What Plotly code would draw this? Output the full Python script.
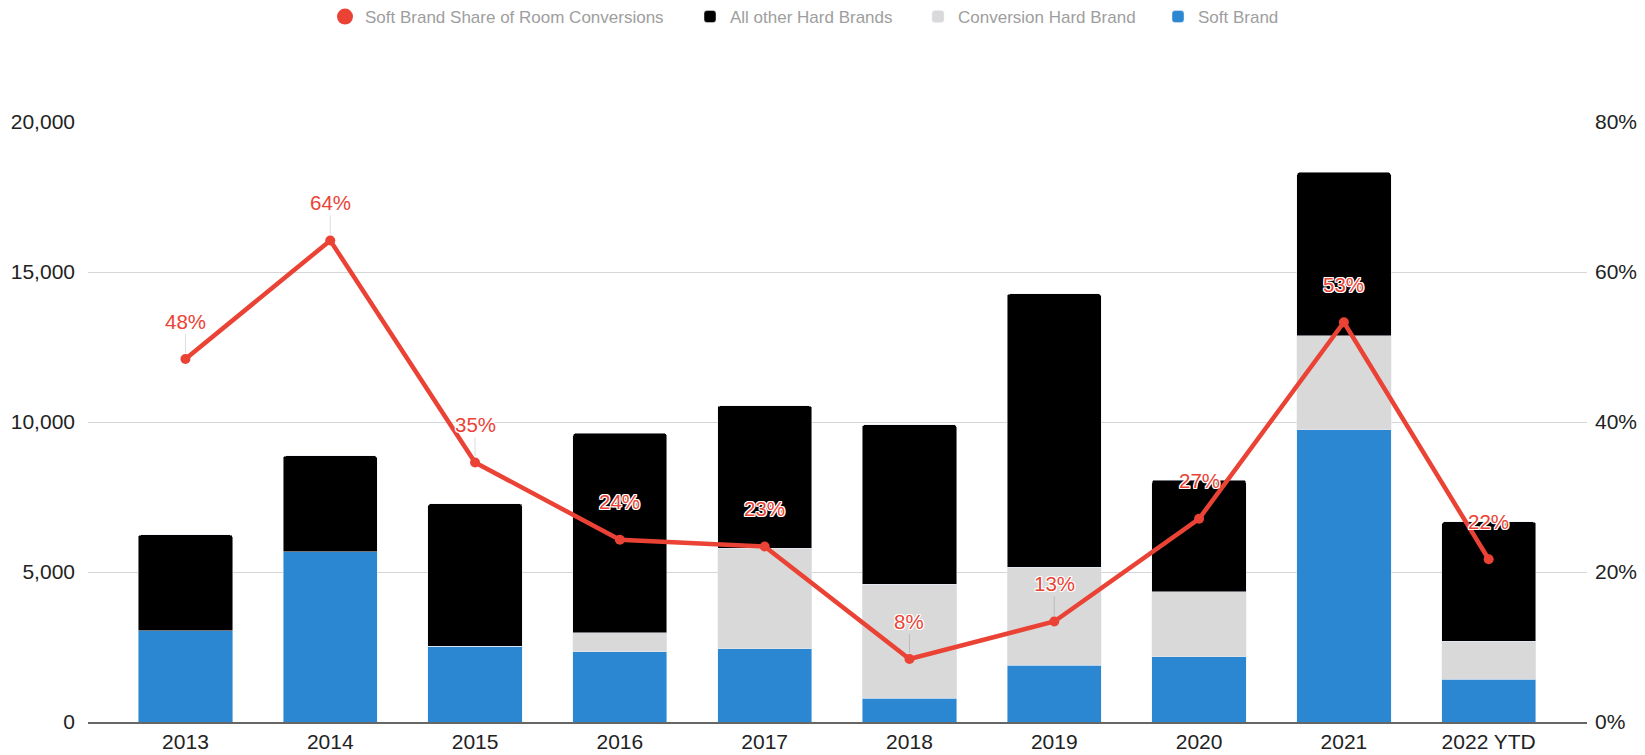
import plotly.graph_objects as go

years = ['2013', '2014', '2015', '2016', '2017', '2018', '2019', '2020', '2021', '2022 YTD']
soft_brand = [3040, 5680, 2530, 2350, 2450, 790, 1890, 2180, 9750, 1420]
conversion_hard = [0, 0, 0, 630, 3340, 3800, 3270, 2170, 3130, 1280]
other_hard = [3200, 3190, 4750, 6640, 4750, 5320, 9110, 3710, 5440, 3970]
soft_share = [0.484, 0.642, 0.346, 0.243, 0.234, 0.084, 0.134, 0.271, 0.533, 0.217]

RED = '#EA4335'
BLUE = '#2B87D1'
GREY = '#D9D9D9'
BLACK = '#000000'
FONT = 'Liberation Sans, Arial, Helvetica, sans-serif'

W, H = 1637, 747  # page body adds 8px margin

fig = go.Figure()
fig.add_trace(go.Bar(x=years, y=soft_brand, name='Soft Brand', marker_color=BLUE, width=0.651,
                     legend='legend4'))
fig.add_trace(go.Bar(x=years, y=conversion_hard, name='Conversion Hard Brand', marker_color=GREY,
                     width=0.651, legend='legend3'))
fig.add_trace(go.Bar(x=years, y=other_hard, name='All other Hard Brands', marker_color=BLACK,
                     width=0.651, legend='legend2'))
fig.add_trace(go.Scatter(x=years, y=soft_share, yaxis='y2', mode='lines+markers',
                         line=dict(color=RED, width=4.5), marker=dict(color=RED, size=10),
                         showlegend=False, name='Soft Brand Share of Room Conversions'))
# legend entry (circle only)
fig.add_trace(go.Scatter(x=[None], y=[None], yaxis='y2', mode='markers',
                         marker=dict(color=RED, size=16), name='Soft Brand Share of Room Conversions',
                         legend='legend'))

halo = ('-1px -1px 0 #fff, 1px -1px 0 #fff, -1px 1px 0 #fff, 1px 1px 0 #fff, '
        '0 -1px 0 #fff, 0 1px 0 #fff, -1px 0 0 #fff, 1px 0 0 #fff')
for i, v in enumerate(soft_share):
    fig.add_annotation(x=i, y=v, xref='x', yref='y2', text=f'{v:.0%}',
                       showarrow=True, arrowhead=0, arrowwidth=1, arrowcolor='rgba(0,0,0,0.13)',
                       ax=0, ay=-38, standoff=6,
                       font=dict(family=FONT, size=20.5, color=RED, shadow=halo))


def leg(xpix):
    return dict(orientation='h', xref='container', yref='container', x=xpix / W, xanchor='left',
                y=1 - 9 / H, yanchor='middle', font=dict(size=17, color='#9E9E9E'),
                itemclick=False, bgcolor='rgba(0,0,0,0)')


fig.update_layout(
    width=W, height=H,
    paper_bgcolor='white', plot_bgcolor='white',
    barmode='stack', barcornerradius=3,
    margin=dict(l=80, r=58, t=114, b=33, autoexpand=False),
    font=dict(family=FONT, size=21, color='#222'),
    legend=leg(317), legend2=leg(682), legend3=leg(910), legend4=leg(1150),
    xaxis=dict(type='category', range=[-0.673, 9.679], showline=True, linecolor='#666',
               linewidth=2, showgrid=False, ticks='', ticklabelstandoff=0,
               tickfont=dict(size=21, color='#222')),
    yaxis=dict(range=[0, 20000], dtick=5000, tickformat=',', showgrid=True, gridcolor='#D6D6D6',
               gridwidth=1, zeroline=False, ticklabelstandoff=12, tickfont=dict(size=21, color='#222')),
    yaxis2=dict(range=[0, 0.8], dtick=0.2, tickformat='.0%', overlaying='y', side='right',
                showgrid=False, zeroline=False, ticklabelstandoff=7, tickfont=dict(size=21, color='#222')),
)

fig.write_html('out.html')
